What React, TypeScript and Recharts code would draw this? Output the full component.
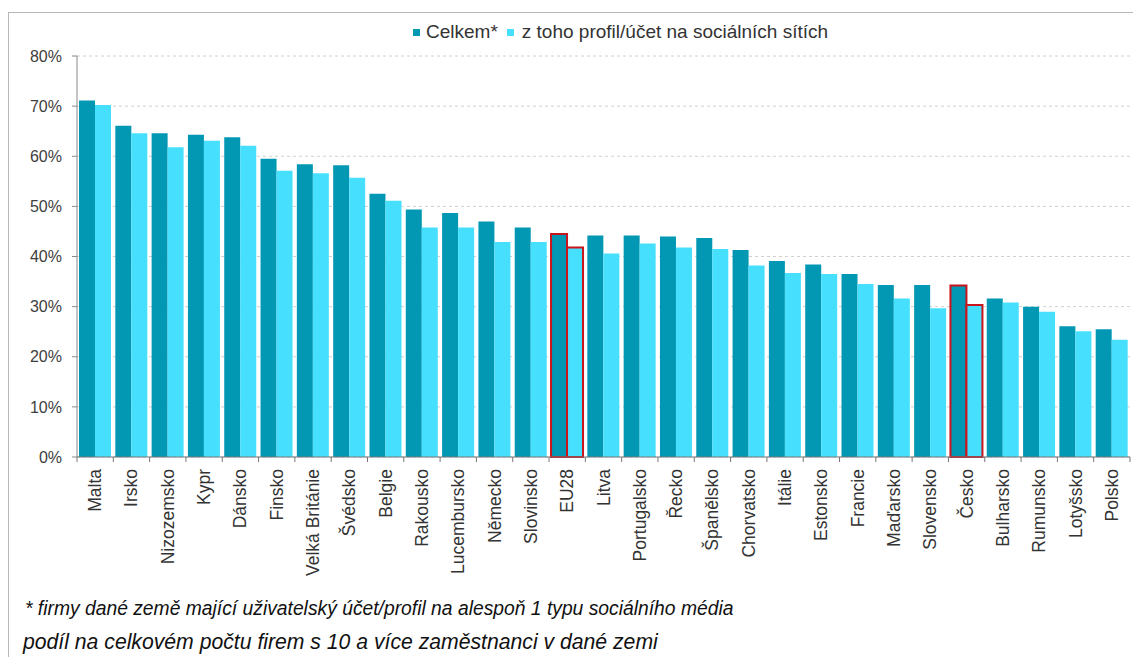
import React from 'react';
import { BarChart, Bar, XAxis, YAxis, CartesianGrid, Cell } from 'recharts';

const countries = [
  'Malta', 'Irsko', 'Nizozemsko', 'Kypr', 'Dánsko', 'Finsko', 'Velká Británie', 'Švédsko', 'Belgie',
  'Rakousko', 'Lucembursko', 'Německo', 'Slovinsko', 'EU28', 'Litva', 'Portugalsko', 'Řecko',
  'Španělsko', 'Chorvatsko', 'Itálie', 'Estonsko', 'Francie', 'Maďarsko', 'Slovensko', 'Česko',
  'Bulharsko', 'Rumunsko', 'Lotyšsko', 'Polsko',
];

const totalValues = [
  71.1, 66.1, 64.6, 64.3, 63.8, 59.5, 58.4, 58.2, 52.5,
  49.4, 48.7, 47.0, 45.8, 44.5, 44.2, 44.2, 44.0,
  43.7, 41.3, 39.1, 38.4, 36.5, 34.3, 34.3, 34.2,
  31.6, 30.0, 26.1, 25.5,
];

const socialValues = [
  70.2, 64.6, 61.8, 63.1, 62.1, 57.1, 56.6, 55.7, 51.1,
  45.8, 45.8, 42.9, 42.9, 41.8, 40.6, 42.6, 41.8,
  41.5, 38.2, 36.7, 36.5, 34.5, 31.6, 29.7, 30.3,
  30.8, 29.0, 25.1, 23.4,
];

const yTicks = [0, 10, 20, 30, 40, 50, 60, 70, 80];
const highlighted = ['EU28', 'Česko'];

const seriesNames = ['Celkem*', 'z toho profil/účet na sociálních sítích'];
const footnote1 = '* firmy dané země mající uživatelský účet/profil na alespoň 1 typu sociálního média';
const footnote2 = 'podíl na celkovém počtu firem s 10 a více zaměstnanci v dané zemi';

const DARK = '#0298B3';
const LIGHT = '#46E0FE';
const RED = '#C8141C';

const data = countries.map((name, i) => ({ name, total: totalValues[i], social: socialValues[i] }));

const CHART_W = 1133;
const CHART_H = 600;
const PLOT_LEFT = 77;
const PLOT_RIGHT_MARGIN = 3;
const BAND = (CHART_W - PLOT_LEFT - PLOT_RIGHT_MARGIN) / countries.length;

const XTick = (props: any) => {
  const { x, y, payload, index } = props;
  const ty = y + 12;
  return (
    <g>
      <line x1={x - BAND / 2} y1={y} x2={x - BAND / 2} y2={y + 5} stroke="#777" strokeWidth={1} />
      {index === countries.length - 1 && (
        <line x1={x + BAND / 2} y1={y} x2={x + BAND / 2} y2={y + 5} stroke="#777" strokeWidth={1} />
      )}
      <text
        x={x}
        y={ty}
        transform={`rotate(-90, ${x}, ${ty})`}
        textAnchor="end"
        dominantBaseline="central"
        fontSize={17.5}
        fill="#333"
        fontFamily="'Liberation Sans', Arial, sans-serif"
      >
        {payload.value}
      </text>
    </g>
  );
};

export default function App() {
  return (
    <div
      style={{
        position: 'absolute',
        left: 0,
        top: 0,
        width: 1133,
        height: 657,
        overflow: 'hidden',
        background: '#fff',
        fontFamily: "'Liberation Sans', Arial, sans-serif",
      }}
    >
      <div
        style={{
          position: 'absolute',
          left: 8,
          top: 12,
          width: 1200,
          height: 700,
          borderLeft: '1.5px solid #b8b8b8',
          borderTop: '1.5px solid #b8b8b8',
        }}
      />
      <div
        style={{
          position: 'absolute',
          left: 413,
          top: 20,
          height: 24,
          display: 'flex',
          alignItems: 'center',
          fontSize: 19,
          color: '#333',
          whiteSpace: 'nowrap',
        }}
      >
        <span style={{ display: 'inline-block', width: 7, height: 7, background: DARK, marginRight: 6 }} />
        <span>{seriesNames[0]}</span>
        <span style={{ display: 'inline-block', width: 7, height: 7, background: LIGHT, marginLeft: 9, marginRight: 8 }} />
        <span>{seriesNames[1]}</span>
      </div>
      <div style={{ position: 'absolute', left: 0, top: 0 }}>
        <BarChart
          width={CHART_W}
          height={CHART_H}
          data={data}
          margin={{ top: 56, right: PLOT_RIGHT_MARGIN, left: 0, bottom: 0 }}
          barGap={0}
          barCategoryGap={2}
        >
          <CartesianGrid vertical={false} stroke="#d0d0d0" strokeDasharray="3 3" />
          <YAxis
            width={PLOT_LEFT}
            domain={[0, 80]}
            ticks={yTicks}
            interval={0}
            tickFormatter={(v: number) => `${v}%`}
            tick={{ fontSize: 16, fill: '#404040' }}
            tickSize={5}
            tickMargin={10}
            tickLine={{ stroke: '#888' }}
            axisLine={{ stroke: '#888' }}
          />
          <XAxis
            dataKey="name"
            interval={0}
            height={143}
            tickSize={0}
            tickMargin={0}
            tickLine={false}
            axisLine={{ stroke: '#777' }}
            tick={<XTick />}
          />
          <Bar dataKey="total" name={seriesNames[0]} fill={DARK} isAnimationActive={false}>
            {data.map((d, i) => (
              <Cell
                key={`t-${i}`}
                fill={DARK}
                stroke={highlighted.includes(d.name) ? RED : 'none'}
                strokeWidth={highlighted.includes(d.name) ? 2 : 0}
              />
            ))}
          </Bar>
          <Bar dataKey="social" name={seriesNames[1]} fill={LIGHT} isAnimationActive={false}>
            {data.map((d, i) => (
              <Cell
                key={`s-${i}`}
                fill={LIGHT}
                stroke={highlighted.includes(d.name) ? RED : 'none'}
                strokeWidth={highlighted.includes(d.name) ? 2 : 0}
              />
            ))}
          </Bar>
        </BarChart>
      </div>
      <div
        style={{
          position: 'absolute',
          left: 25,
          top: 598,
          fontSize: 19.3,
          fontStyle: 'italic',
          color: '#111',
          whiteSpace: 'nowrap',
        }}
      >
        {footnote1}
      </div>
      <div
        style={{
          position: 'absolute',
          left: 23,
          top: 630,
          fontSize: 21.2,
          fontStyle: 'italic',
          color: '#111',
          whiteSpace: 'nowrap',
        }}
      >
        {footnote2}
      </div>
    </div>
  );
}
